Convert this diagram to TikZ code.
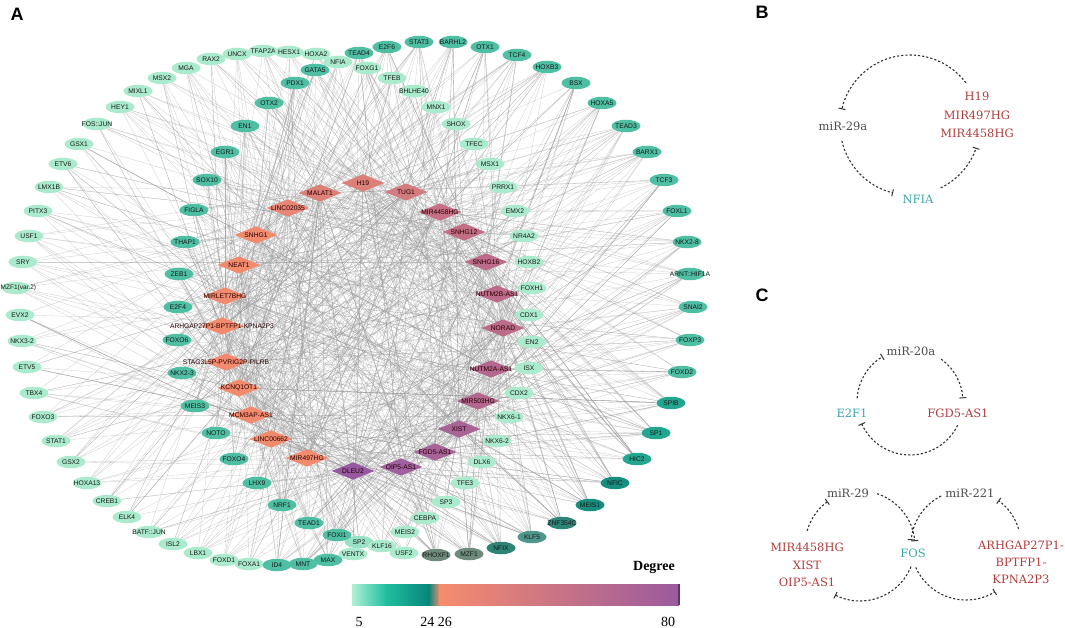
\documentclass[tikz,border=0pt]{standalone}
\usepackage{fontspec}
\setmainfont{Liberation Serif}
\newfontfamily\netf{Liberation Sans}
\newfontfamily\pcf{DejaVu Serif}
\usetikzlibrary{shapes.geometric,arrows.meta}
\definecolor{mint}{HTML}{ABEBCD}
\definecolor{teal1}{HTML}{4EBFA3}
\definecolor{teal2}{HTML}{22A690}
\definecolor{teal3}{HTML}{168E80}
\definecolor{teal4}{HTML}{2F8478}
\definecolor{grn}{HTML}{6E8B7C}
\definecolor{dA}{HTML}{F28B6E}
\definecolor{dB}{HTML}{E88676}
\definecolor{dC}{HTML}{DC7F79}
\definecolor{dD}{HTML}{D27C80}
\definecolor{dE}{HTML}{C66F85}
\definecolor{dF}{HTML}{BC6B8A}
\definecolor{dG}{HTML}{B3678E}
\definecolor{dH}{HTML}{A96496}
\definecolor{dI}{HTML}{A0609D}
\definecolor{dJ}{HTML}{9658A0}
\definecolor{cbmint}{HTML}{B0F0D5}
\definecolor{cbteal}{HTML}{20BFA0}
\definecolor{cbdark}{HTML}{08857A}
\definecolor{cborange}{HTML}{F58C6D}
\definecolor{cbmid}{HTML}{D27B82}
\definecolor{cbpurple}{HTML}{9B5A9E}
\definecolor{cred}{HTML}{B23B3B}
\definecolor{cteal}{HTML}{3AA7B0}
\definecolor{cmir}{HTML}{4A4A4A}
\definecolor{dash}{HTML}{333333}
\pgfdeclarelayer{edgelayer}
\pgfsetlayers{edgelayer,main}
\tikzset{
  tfn/.style={ellipse, minimum width=29pt, minimum height=12.5pt, inner sep=0pt,
    font=\netf\fontsize{6.7}{7.5}\selectfont, text=black!90},
  lnc/.style={diamond, minimum width=43pt, minimum height=17.5pt, inner sep=0pt,
    font=\netf\fontsize{6.7}{7.5}\selectfont, text=black!85!red},
  edge/.style={draw=black!40, line width=0.3pt, opacity=0.5},
  ctext/.style={font=\pcf\fontsize{11.5}{18.5}\selectfont, inner sep=1pt},
  inh/.style={draw=dash, line width=1.1pt, dash pattern=on 2.2pt off 2pt, -{Bar[width=7pt,line width=1pt]}},
  plabel/.style={font=\netf\bfseries\fontsize{18}{20}\selectfont, inner sep=0pt}
}
\newcommand\TF[5]{\node[tfn,fill=#5] (t#1) at (#2,-#3) {\makebox[0pt]{#4}};}
\newcommand\LNC[5]{\node[lnc,fill=#5] (d#1) at (#2,-#3) {\makebox[0pt]{#4}};}
\begin{document}
\begin{tikzpicture}[x=1pt,y=1pt]
\useasboundingbox (0,0) rectangle (1065,-628);
% ---------- TF nodes ----------
\TF{1}{186}{68}{MGA}{mint}
\TF{2}{211}{59}{RAX2}{mint}
\TF{3}{237}{54}{UNCX}{mint}
\TF{4}{263}{51}{TFAP2A}{mint}
\TF{5}{289}{52}{HESX1}{mint}
\TF{6}{316}{54}{HOXA2}{mint}
\TF{7}{338}{62}{NFIA}{mint}
\TF{8}{162}{78}{MSX2}{mint}
\TF{9}{138}{91}{MIXL1}{mint}
\TF{10}{120}{107}{HEY1}{mint}
\TF{11}{97}{124}{FOS::JUN}{mint}
\TF{12}{79}{144}{GSX1}{mint}
\TF{13}{63}{164}{ETV6}{mint}
\TF{14}{49}{187}{LMX1B}{mint}
\TF{15}{38}{211}{PITX3}{mint}
\TF{16}{29}{236}{USF1}{mint}
\TF{17}{23}{262}{SRY}{mint}
\node[tfn,fill=mint] (t18) at (16,-288) {};
\node[font=\netf\fontsize{6.5}{7.5}\selectfont, text=black!90, inner sep=0pt, anchor=west] (t18lab) at (0.5,-288) {MZF1(var.2)};
\TF{19}{20}{315}{EVX2}{mint}
\TF{20}{22}{341}{NKX3-2}{mint}
\TF{21}{27}{367}{ETV5}{mint}
\TF{22}{34}{393}{TBX4}{mint}
\TF{23}{43}{417}{FOXO3}{mint}
\TF{24}{56}{441}{STAT1}{mint}
\TF{25}{71}{462}{GSX2}{mint}
\TF{26}{87}{483}{HOXA13}{mint}
\TF{27}{107}{501}{CREB1}{mint}
\TF{28}{127}{517}{ELK4}{mint}
\TF{29}{149}{532}{BATF::JUN}{mint}
\TF{30}{173}{544}{ISL2}{mint}
\TF{31}{198}{553}{LBX1}{mint}
\TF{32}{224}{560}{FOXD1}{mint}
\TF{33}{249}{564}{FOXA1}{mint}
\TF{34}{277}{565}{ID4}{teal1}
\TF{35}{303}{564}{MNT}{teal1}
\TF{36}{328}{560}{MAX}{teal1}
\TF{37}{353}{554}{VENTX}{mint}
\TF{38}{359}{542}{SP2}{mint!80!teal1}
\TF{39}{382}{546}{KLF16}{mint}
\TF{40}{404}{553}{USF2}{mint}
\TF{41}{436}{555}{RHOXF1}{grn}
\TF{42}{469}{554}{MZF1}{grn}
\TF{43}{501}{548}{NFIX}{teal4}
\TF{44}{532}{537}{KLF5}{teal4!85!white}
\TF{45}{562}{523}{ZNF354C}{teal4}
\TF{46}{590}{505}{MEIS1}{teal3}
\TF{47}{615}{483}{NFIC}{teal3}
\TF{48}{637}{459}{HIC2}{teal2}
\TF{49}{656}{433}{SP1}{teal2}
\TF{50}{671}{403}{SPIB}{teal2}
\TF{51}{682}{372}{FOXD2}{teal1}
\TF{52}{690}{340}{FOXP3}{teal1}
\TF{53}{693}{307}{SNAI2}{teal1}
\TF{54}{690}{274}{ARNT::HIF1A}{teal1}
\TF{55}{687}{242}{NKX2-8}{teal1}
\TF{56}{677}{211}{FOXL1}{teal1}
\TF{57}{664}{180}{TCF3}{teal1}
\TF{58}{647}{152}{BARX1}{teal1}
\TF{59}{626}{126}{TEAD3}{teal1}
\TF{60}{602}{103}{HOXA5}{teal1}
\TF{61}{576}{83}{BSX}{teal1}
\TF{62}{547}{67}{HOXB3}{teal1}
\TF{63}{517}{55}{TCF4}{teal1}
\TF{64}{485}{47}{OTX1}{teal1}
\TF{65}{453}{42}{BARHL2}{teal1}
\TF{66}{419}{42}{STAT3}{teal1}
\TF{67}{387}{47}{E2F6}{teal1}
\TF{68}{359}{53}{TEAD4}{teal1}
\TF{69}{315}{70}{GATA5}{teal1}
\TF{70}{295}{83}{PDX1}{teal1}
\TF{71}{269}{103}{OTX2}{teal1}
\TF{72}{245}{126}{EN1}{teal1}
\TF{73}{225}{152}{EGR1}{teal1}
\TF{74}{207}{180}{SOX10}{teal1}
\TF{75}{194}{210}{FIGLA}{teal1}
\TF{76}{185}{242}{THAP1}{teal1}
\TF{77}{179}{274}{ZEB1}{teal1}
\TF{78}{178}{307}{E2F4}{teal1}
\TF{79}{177}{340}{FOXO6}{teal1}
\TF{80}{182}{373}{NKX2-3}{teal1}
\TF{81}{195}{406}{MEIS3}{teal1}
\TF{82}{216}{433}{NOTO}{teal1}
\TF{83}{234}{459}{FOXO4}{teal1}
\TF{84}{257}{483}{LHX9}{teal1}
\TF{85}{282}{505}{NRF1}{teal1}
\TF{86}{309}{523}{TEAD1}{teal1}
\TF{87}{337}{535}{FOXI1}{teal1}
\TF{88}{367}{68}{FOXG1}{mint}
\TF{89}{392}{78}{TFEB}{mint}
\TF{90}{414}{91}{BHLHE40}{mint}
\TF{91}{436}{107}{MNX1}{mint}
\TF{92}{456}{124}{SHOX}{mint}
\TF{93}{474}{144}{TFEC}{mint}
\TF{94}{490}{164}{MSX1}{mint}
\TF{95}{503}{187}{PRRX1}{mint}
\TF{96}{515}{211}{EMX2}{mint}
\TF{97}{524}{236}{NR4A2}{mint}
\TF{98}{529}{262}{HOXB2}{mint}
\TF{99}{532}{288}{FOXH1}{mint}
\TF{100}{529}{315}{CDX1}{mint}
\TF{101}{532}{342}{EN2}{mint}
\TF{102}{529}{368}{ISX}{mint}
\TF{103}{519}{393}{CDX2}{mint}
\TF{104}{509}{417}{NKX6-1}{mint}
\TF{105}{497}{441}{NKX6-2}{mint}
\TF{106}{482}{462}{DLX6}{mint}
\TF{107}{465}{483}{TFE3}{mint}
\TF{108}{446}{502}{SP3}{mint}
\TF{109}{425}{518}{CEBPA}{mint}
\TF{110}{405}{532}{MEIS2}{mint}
% ---------- lncRNA nodes ----------
\LNC{1}{363}{183}{H19}{dC}
\LNC{2}{320}{193}{MALAT1}{dC}
\LNC{3}{406}{192}{TUG1}{dD}
\LNC{4}{288}{208}{LINC02035}{dB}
\LNC{5}{440}{212}{MIR4458HG}{dE}
\LNC{6}{464}{232}{SNHG12}{dE!80!dF}
\LNC{7}{256}{235}{SNHG1}{dA}
\LNC{8}{486}{262}{SNHG16}{dF}
\LNC{9}{239}{265}{NEAT1}{dA}
\LNC{10}{497}{294}{NUTM2B-AS1}{dF}
\LNC{11}{225}{296}{MIRLET7BHG}{dA}
\LNC{12}{222}{326}{ARHGAP27P1-BPTFP1-KPNA2P3}{dA}
\LNC{13}{503}{328}{NORAD}{dF}
\LNC{14}{226}{362}{STAG3L5P-PVRIG2P-PILRB}{dA}
\LNC{15}{491}{369}{NUTM2A-AS1}{dG}
\LNC{16}{239}{388}{KCNQ1OT1}{dA}
\LNC{17}{478}{401}{MIR503HG}{dG}
\LNC{18}{251}{415}{MCM3AP-AS1}{dA}
\LNC{19}{459}{429}{XIST}{dH}
\LNC{20}{271}{439}{LINC00662}{dA}
\LNC{21}{435}{452}{FGD5-AS1}{dH!70!dI}
\LNC{22}{307}{458}{MIR497HG}{dA}
\LNC{23}{401}{467}{OIP5-AS1}{dI}
\LNC{24}{353}{471}{DLEU2}{dJ}
% ---------- edges ----------
\begin{pgfonlayer}{edgelayer}
\pgfmathsetseed{4242}
\foreach \i in {1,...,33,37,38,39,40,88,89,...,110}{
  \foreach \k in {1,...,8}{
    \pgfmathrandominteger{\r}{1}{24}
    \draw[edge] (t\i) -- (d\r);
  }
}
\foreach \i in {34,35,36,51,52,...,87}{
  \foreach \k in {1,...,14}{
    \pgfmathrandominteger{\r}{1}{24}
    \draw[edge] (t\i) -- (d\r);
  }
}
\foreach \i in {41,...,50}{
  \foreach \k in {1,...,20}{
    \pgfmathrandominteger{\r}{1}{24}
    \draw[edge] (t\i) -- (d\r);
  }
}
\end{pgfonlayer}
% ---------- colour bar ----------
\shade[left color=cbmint,right color=cbteal] (352,-584) rectangle (386,-605);
\shade[left color=cbteal,right color=cbdark] (385.5,-584) rectangle (429,-605);
\shade[left color=cbdark,right color=cborange] (428.5,-584) rectangle (440,-605);
\shade[left color=cborange,middle color=cbmid,right color=cbpurple] (439.5,-584) rectangle (679,-605);
\fill[cbpurple!60!black] (678,-584) rectangle (680,-605);
\node[font=\bfseries\fontsize{14}{16}\selectfont] (deg) at (654,-567) {Degree};
\node[font=\fontsize{14}{16}\selectfont] (v5) at (359,-622) {5};
\node[font=\fontsize{14}{16}\selectfont] (v2426) at (436,-622) {24 26};
\node[font=\fontsize{14}{16}\selectfont] (v80) at (668,-622) {80};
% ---------- panel labels ----------
\node[plabel] (pA) at (17,-14) {A};
\node[plabel] (pB) at (762,-12) {B};
\node[plabel] (pC) at (762,-295) {C};
% ---------- panel B ----------
\node[ctext,text=cmir] (mir29a) at (843,-126) {miR-29a};
\node[ctext,text=cred,align=center] (lncB) at (977,-115) {H19\\MIR497HG\\MIR4458HG};
\node[ctext,text=cteal] (nfiaB) at (918,-199) {NFIA};
\coordinate (Bc) at (910,-125);
\draw[inh] ([shift={(37:70)}]Bc) arc[start angle=37,end angle=167,radius=70];
\draw[inh] ([shift={(193:70)}]Bc) arc[start angle=193,end angle=256,radius=70];
\draw[inh] ([shift={(296:70)}]Bc) arc[start angle=296,end angle=341,radius=70];
% ---------- panel C upper ----------
\node[ctext,text=cmir] (mir20a) at (911,-351) {miR-20a};
\node[ctext,text=cteal] (e2f1) at (852,-413) {E2F1};
\node[ctext,text=cred] (fgd5) at (958,-413) {FGD5-AS1};
\coordinate (Cu) at (910,-402);
\draw[inh] ([shift={(176:53)}]Cu) arc[start angle=176,end angle=121,radius=53];
\draw[inh] ([shift={(54:53)}]Cu) arc[start angle=54,end angle=4,radius=53];
\draw[inh] ([shift={(-26:53)}]Cu) arc[start angle=-26,end angle=-156,radius=53];
% ---------- panel C lower ----------
\node[ctext,text=cmir] (mir29) at (848,-493) {miR-29};
\node[ctext,text=cmir] (mir221) at (970,-493) {miR-221};
\node[ctext,text=cteal] (fos) at (913,-553) {FOS};
\node[ctext,text=cred,align=center,font=\pcf\fontsize{11.5}{17.5}\selectfont] (lncL) at (807,-565) {MIR4458HG\\XIST\\OIP5-AS1};
\node[ctext,text=cred,align=center,font=\pcf\fontsize{11.5}{17}\selectfont] (lncR) at (1021,-562) {ARHGAP27P1-\\BPTFP1-\\KPNA2P3};
\coordinate (CL) at (860,-546);
\coordinate (CR) at (966,-545);
\draw[inh] ([shift={(164:55)}]CL) arc[start angle=164,end angle=126,radius=55];
\draw[inh] ([shift={(72:55)}]CL) arc[start angle=72,end angle=5,radius=55];
\draw[inh] ([shift={(-22:55)}]CL) arc[start angle=-22,end angle=-117,radius=55];
\draw[inh] ([shift={(117:55)}]CR) arc[start angle=117,end angle=175,radius=55];
\draw[inh] ([shift={(204:55)}]CR) arc[start angle=204,end angle=302,radius=55];
\draw[inh] ([shift={(17:55)}]CR) arc[start angle=17,end angle=54,radius=55];
\end{tikzpicture}
\end{document}
